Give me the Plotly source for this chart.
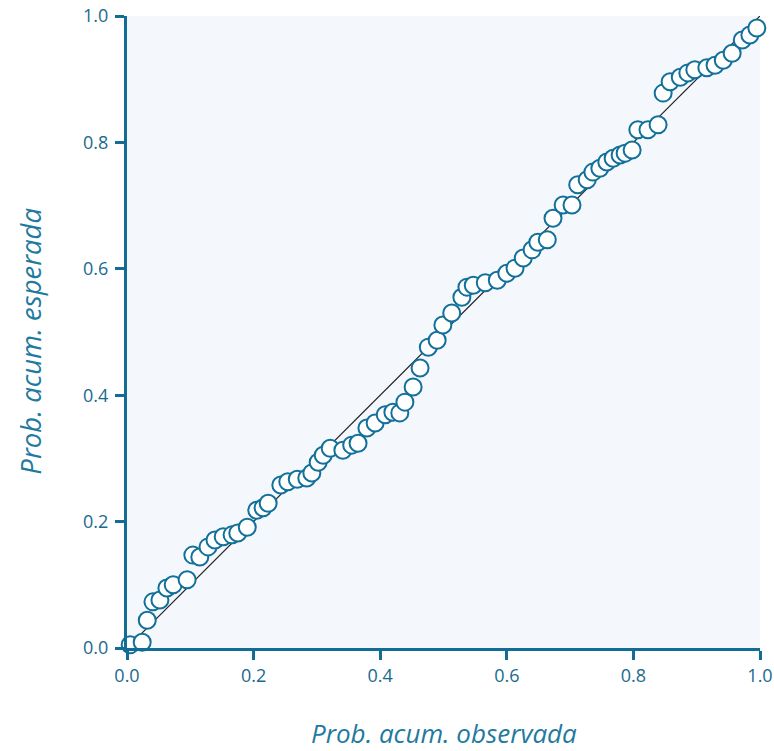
import plotly.graph_objects as go

# Observed cumulative probability (x) and expected cumulative probability (y)
prob_observada = [
    0.005, 0.024, 0.032, 0.041, 0.052, 0.063, 0.073, 0.095, 0.104, 0.115,
    0.128, 0.139, 0.152, 0.166, 0.175, 0.190, 0.205, 0.215, 0.223, 0.243,
    0.254, 0.269, 0.284, 0.292, 0.302, 0.310, 0.321, 0.341, 0.355, 0.365,
    0.379, 0.392, 0.408, 0.420, 0.431, 0.439, 0.452, 0.463, 0.476, 0.490,
    0.499, 0.513, 0.529, 0.537, 0.547, 0.566, 0.585, 0.600, 0.613, 0.626,
    0.640, 0.649, 0.664, 0.673, 0.689, 0.703, 0.712, 0.727, 0.736, 0.747,
    0.758, 0.768, 0.779, 0.787, 0.798, 0.807, 0.823, 0.839, 0.847, 0.858,
    0.874, 0.886, 0.897, 0.916, 0.929, 0.942, 0.956, 0.972, 0.984, 0.995,
]
prob_esperada = [
    0.005, 0.009, 0.044, 0.073, 0.076, 0.095, 0.100, 0.108, 0.147, 0.144,
    0.160, 0.171, 0.176, 0.179, 0.182, 0.191, 0.218, 0.222, 0.229, 0.258,
    0.263, 0.267, 0.269, 0.277, 0.294, 0.305, 0.316, 0.313, 0.321, 0.324,
    0.348, 0.356, 0.369, 0.373, 0.372, 0.389, 0.413, 0.443, 0.476, 0.487,
    0.511, 0.530, 0.555, 0.571, 0.574, 0.578, 0.582, 0.593, 0.601, 0.617,
    0.630, 0.642, 0.646, 0.680, 0.701, 0.701, 0.733, 0.741, 0.753, 0.759,
    0.769, 0.775, 0.780, 0.783, 0.788, 0.820, 0.820, 0.828, 0.878, 0.896,
    0.903, 0.910, 0.915, 0.918, 0.922, 0.930, 0.941, 0.962, 0.970, 0.981,
]
ref_line = [0.0, 1.0]
tick_vals = [0.0, 0.2, 0.4, 0.6, 0.8, 1.0]
tick_text = ["0.0", "0.2", "0.4", "0.6", "0.8", "1.0"]
x_title = "Prob. acum. observada"
y_title = "Prob. acum. esperada"

AXIS_COLOR = "#136c93"
TEXT_COLOR = "#1a6a8e"
TITLE_COLOR = "#1f7aa0"

fig = go.Figure()
fig.add_trace(go.Scatter(
    x=ref_line, y=ref_line, mode="lines",
    line=dict(color="#222222", width=1.2),
    hoverinfo="skip", showlegend=False,
))
fig.add_trace(go.Scatter(
    x=prob_observada, y=prob_esperada, mode="markers",
    marker=dict(size=17, color="white", line=dict(color="#12709a", width=2)),
    cliponaxis=False, showlegend=False,
))

axis_common = dict(
    range=[0, 1], showgrid=False, zeroline=False, automargin=False,
    showline=True, linecolor=AXIS_COLOR, linewidth=3,
    ticks="outside", ticklen=9, tickwidth=2.5, tickcolor=AXIS_COLOR,
    tickvals=tick_vals, ticktext=tick_text, ticklabeloverflow="allow",
    tickfont=dict(family="Open Sans", size=18, color=TEXT_COLOR),
)

fig.update_layout(
    width=774, height=751,
    margin=dict(l=127, r=14, t=16, b=103),
    paper_bgcolor="white", plot_bgcolor="#f4f8fc",
    xaxis=dict(**axis_common),
    yaxis=dict(**axis_common, ticklabelstandoff=3),
    annotations=[
        dict(text="<i>" + x_title + "</i>", xref="paper", yref="paper",
             x=0.5, y=-0.135, xanchor="center", yanchor="middle",
             showarrow=False,
             font=dict(family="Open Sans", size=26, color=TITLE_COLOR)),
        dict(text="<i>" + y_title + "</i>", xref="paper", yref="paper",
             x=-0.152, y=0.486, xanchor="center", yanchor="middle",
             textangle=-90, showarrow=False,
             font=dict(family="Open Sans", size=27.5, color=TITLE_COLOR)),
    ],
)

# Remove the default page margin so the 774x751 figure fills the window exactly.
fig.write_html(
    "out.html",
    config={"displayModeBar": False},
    post_script="document.body.style.margin='0';document.body.style.overflow='hidden';",
)
